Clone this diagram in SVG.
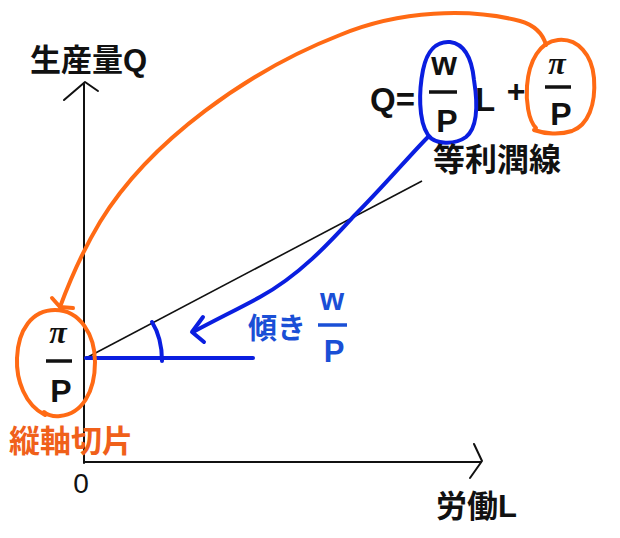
<svg xmlns="http://www.w3.org/2000/svg" width="620" height="538" viewBox="0 0 620 538">
<style>
.t{font-family:"Liberation Sans","Noto Sans CJK JP",sans-serif;font-weight:bold;}
.k{fill:#111;}
.bl{fill:#1a4fd6;}
.or{fill:#f0601a;}
.pi{font-family:"Liberation Serif","Noto Sans CJK JP",serif;font-weight:bold;font-style:italic;}
.ax{stroke:#111;stroke-width:2;fill:none;stroke-linecap:round;stroke-linejoin:round;}
.bar{stroke:#111;stroke-width:3.5;}
.ob{stroke:#ff6a14;stroke-width:4;fill:none;stroke-linecap:round;stroke-linejoin:round;}
.bb{stroke:#0a1ee0;stroke-width:4;fill:none;stroke-linecap:round;stroke-linejoin:round;}
</style>
<rect width="620" height="538" fill="#fff"/>
<g id="axes">
<line class="ax" x1="84" y1="84" x2="84" y2="463"/>
<polyline class="ax" points="64,100 85,82 98,91"/>
<line class="ax" x1="84" y1="462" x2="481" y2="462"/>
<polyline class="ax" points="474,444 482,461 470,478"/>
</g>
<g id="labels">
<text class="t k" x="30" y="71" font-size="31">生産量Q</text>
<text class="t k" x="436" y="517" font-size="31">労働L</text>
<text class="k" x="81" y="493" font-size="28" text-anchor="middle" font-family="Liberation Sans,sans-serif">0</text>
</g>
<g id="connectors">
<line x1="86" y1="358" x2="422" y2="181" stroke="#111" stroke-width="1.6"/>
<line class="bb" x1="86" y1="358" x2="253" y2="358"/>
<path class="bb" d="M152,322 Q162,338 162,361"/>
<path class="bb" d="M428,137 C410,155 385,185 353,217 C330,242 300,275 260,297 C240,308 215,320 193,332"/>
<polyline class="bb" points="203,317 192,332 204,342"/>
<path class="ob" d="M546,45 Q541,27 520,21 C470,8 400,10 340,35 C250,70 150,140 100,222 C82,252 70,280 60,307"/>
<polyline class="ob" points="52,298 60,307 73,308"/>
</g>
<g id="equation">
<text class="t k" x="370" y="111" font-size="33">Q=</text>
<text class="t k" x="444" y="75" font-size="33" text-anchor="middle">w</text>
<line class="bar" x1="429" y1="92" x2="457" y2="92"/>
<text class="t k" x="447" y="132" font-size="32" text-anchor="middle">P</text>
<text class="t k" x="475" y="111" font-size="33">L</text>
<text class="t k" x="516" y="102" font-size="32" text-anchor="middle">+</text>
<text class="pi k" x="557" y="74" font-size="32" text-anchor="middle">π</text>
<line class="bar" x1="545" y1="87" x2="571" y2="87"/>
<text class="t k" x="561" y="125" font-size="32" text-anchor="middle">P</text>
<path class="bb" d="M428,135 C418,120 419,90 423,70 C427,50 437,41 450,42 C465,44 472,60 474,80 C478,105 477,128 466,137 C455,145 435,145 428,135 Z"/>
<path class="ob" d="M536,128 C528,120 526,100 527,86 C529,60 540,42 558,40 C578,38 592,55 594,78 C596,105 588,125 572,131 C560,135 545,134 534,130"/>
</g>
<g id="isoprofit">
<text class="t k" x="433" y="171" font-size="32">等利潤線</text>
</g>
<g id="intercept">
<text class="pi k" x="58" y="343" font-size="32" text-anchor="middle">π</text>
<line class="bar" x1="46" y1="361" x2="72" y2="361"/>
<text class="t k" x="61" y="402" font-size="32" text-anchor="middle">P</text>
<path class="ob" d="M45,415 C25,405 16,380 17,358 C18,330 32,310 55,310 C80,310 95,335 95,362 C95,392 82,414 60,416 C52,417 46,414 44,412"/>
<text class="t or" x="9" y="452" font-size="31">縦軸切片</text>
</g>
<g id="slope">
<text class="t bl" x="248" y="339" font-size="29">傾き</text>
<text class="t bl" x="332" y="310" font-size="31" text-anchor="middle">w</text>
<line x1="318" y1="325" x2="347" y2="325" stroke="#1a4fd6" stroke-width="3.5"/>
<text class="t bl" x="334" y="362" font-size="31" text-anchor="middle">P</text>
</g>
</svg>
